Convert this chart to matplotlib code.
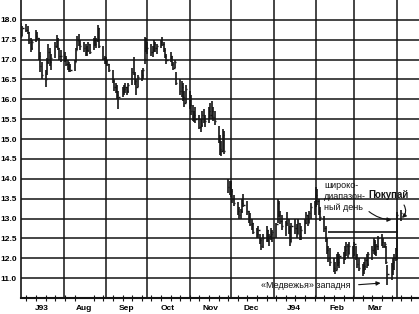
import matplotlib
matplotlib.use('Agg')
import matplotlib.pyplot as plt
import matplotlib.dates as mdates
import pandas as pd

# ---------------- data (daily bars, Jul 1993 - Apr 1994) ----------------
highs = [
    # Jul 93
    17.92, 17.85, 17.90, 17.85, 17.70, 17.55, 17.50, 17.75, 17.70, 17.55, 17.20,
    16.95, 16.75, 17.05, 17.40, 17.30, 17.15, 17.45, 17.62, 17.55, 17.30, 17.25,
    # Aug
    17.20, 17.10, 17.00, 16.95, 16.90, 17.00, 17.30, 17.60, 17.65, 17.50, 17.45,
    17.40, 17.35, 17.45, 17.40, 17.55, 17.60, 17.55, 17.87, 17.80, 17.35, 17.10,
    # Sep
    17.07, 17.00, 16.90, 16.75, 16.50, 16.40, 16.35, 16.20, 16.30, 16.35, 16.40,
    16.30, 16.40, 16.80, 17.07, 16.70, 16.50, 16.60, 16.75, 16.80, 17.57, 17.55,
    # Oct
    17.45, 17.40, 17.35, 17.50, 17.45, 17.40, 17.50, 17.57, 17.45, 17.30, 17.15,
    17.20, 17.10, 16.95, 17.00, 16.70, 16.50, 16.45, 16.40, 16.20, 16.35,
    # Nov
    16.20, 16.10, 15.85, 15.70, 15.80, 15.60, 15.50, 15.70, 15.75, 15.60, 15.80,
    15.90, 15.95, 15.80, 15.70, 15.32, 15.10, 14.95, 15.25, 15.20, 14.00, 13.95,
    # Dec
    13.95, 13.75, 13.60, 13.42, 13.30, 13.25, 13.50, 13.62, 13.45, 13.20, 13.15,
    13.00, 12.90, 12.75, 12.80, 12.60, 12.50, 12.60, 12.82, 12.70, 12.60, 12.75, 12.70,
    # Jan 94
    12.90, 13.50, 13.45, 13.20, 13.10, 12.95, 13.17, 13.00, 12.80, 12.90, 13.00,
    12.85, 13.00, 12.90, 12.80, 13.00, 13.17, 13.10, 13.20, 13.40, 13.45,
    # Feb
    13.80, 13.75, 13.50, 13.30, 13.07, 12.80, 12.50, 12.30, 12.25, 12.00,
    11.90, 12.10, 12.17, 12.10, 12.17, 12.30, 12.42, 12.35, 12.40, 12.30,
    # Mar
    12.42, 12.30, 12.10, 12.00, 11.85, 11.90, 12.00, 12.10, 12.17, 12.30, 12.50,
    12.45, 12.35, 12.55, 12.62, 12.50, 12.42, 12.30, 11.82, 11.87, 12.00, 12.10, 12.25,
    # Apr
    13.17, 13.22,
]
lows = [
    # Jul 93
    17.55, 17.60, 17.70, 17.65, 17.40, 17.20, 17.25, 17.45, 17.50, 17.00, 16.70,
    16.50, 16.30, 16.60, 16.90, 16.85, 16.75, 17.05, 17.30, 17.25, 17.00, 16.95,
    # Aug
    16.95, 16.85, 16.75, 16.70, 16.68, 16.72, 16.95, 17.25, 17.35, 17.25, 17.20,
    17.10, 17.10, 17.20, 17.15, 17.25, 17.35, 17.30, 17.45, 17.30, 17.00, 16.90,
    # Sep
    16.90, 16.85, 16.70, 16.40, 16.20, 16.15, 16.00, 15.75, 16.05, 16.10, 16.15,
    16.10, 16.15, 16.35, 16.60, 16.35, 16.12, 16.30, 16.45, 16.50, 16.90, 17.20,
    # Oct
    17.15, 17.10, 17.07, 17.20, 17.20, 17.15, 17.30, 17.35, 17.20, 17.05, 16.90,
    16.95, 16.85, 16.75, 16.80, 16.35, 16.10, 16.07, 15.95, 15.80, 15.90,
    # Nov
    15.75, 15.60, 15.45, 15.42, 15.40, 15.25, 15.17, 15.30, 15.40, 15.30, 15.40,
    15.50, 15.50, 15.45, 15.35, 14.90, 14.60, 14.57, 14.70, 14.62, 13.65, 13.60,
    # Dec
    13.55, 13.40, 13.32, 13.10, 13.00, 13.00, 13.15, 13.30, 13.10, 12.90, 12.80,
    12.70, 12.60, 12.50, 12.50, 12.35, 12.20, 12.25, 12.40, 12.40, 12.30, 12.45, 12.42,
    # Jan 94
    12.50, 12.90, 13.05, 12.85, 12.70, 12.57, 12.80, 12.60, 12.32, 12.40, 12.60,
    12.50, 12.60, 12.45, 12.45, 12.60, 12.85, 12.82, 12.90, 13.00, 13.10,
    # Feb
    13.30, 13.35, 13.10, 12.95, 12.67, 12.40, 12.10, 11.90, 11.80, 11.65,
    11.60, 11.70, 11.80, 11.75, 11.85, 11.95, 12.05, 12.00, 12.10, 12.00,
    # Mar
    12.05, 11.95, 11.75, 11.67, 11.55, 11.60, 11.70, 11.75, 11.80, 11.95, 12.10,
    12.07, 12.05, 12.20, 12.30, 12.25, 12.25, 11.85, 11.32, 11.45, 11.57, 11.70, 11.92,
    # Apr
    11.95, 12.95,
]
closes = [
    # Jul 93
    17.60, 17.80, 17.75, 17.70, 17.45, 17.30, 17.45, 17.60, 17.55, 17.10, 16.85,
    16.60, 16.50, 16.95, 17.20, 16.95, 17.05, 17.35, 17.50, 17.30, 17.10, 17.10,
    # Aug
    17.05, 16.90, 16.80, 16.85, 16.75, 16.95, 17.25, 17.50, 17.40, 17.35, 17.30,
    17.15, 17.25, 17.40, 17.20, 17.50, 17.40, 17.50, 17.80, 17.35, 17.05, 17.00,
    # Sep
    17.00, 16.90, 16.75, 16.45, 16.30, 16.20, 16.10, 16.05, 16.20, 16.25, 16.30,
    16.20, 16.35, 16.70, 16.65, 16.45, 16.30, 16.55, 16.60, 16.75, 17.50, 17.30,
    # Oct
    17.30, 17.20, 17.25, 17.40, 17.30, 17.35, 17.45, 17.40, 17.25, 17.10, 17.00,
    17.10, 16.90, 16.80, 16.95, 16.40, 16.20, 16.30, 16.05, 15.90, 16.25,
    # Nov
    15.85, 15.70, 15.50, 15.60, 15.50, 15.30, 15.35, 15.60, 15.50, 15.45, 15.70,
    15.60, 15.70, 15.55, 15.45, 15.00, 14.75, 14.70, 15.10, 14.70, 13.80, 13.90,
    # Dec
    13.70, 13.50, 13.40, 13.20, 13.10, 13.20, 13.40, 13.35, 13.20, 13.00, 12.85,
    12.90, 12.65, 12.60, 12.70, 12.45, 12.30, 12.50, 12.70, 12.50, 12.55, 12.60, 12.65,
    # Jan 94
    12.85, 13.40, 13.10, 12.95, 12.80, 12.90, 13.00, 12.70, 12.40, 12.80, 12.75,
    12.60, 12.90, 12.55, 12.70, 12.90, 13.10, 12.90, 13.15, 13.30, 13.35,
    # Feb
    13.60, 13.45, 13.20, 13.05, 12.75, 12.50, 12.20, 12.00, 11.90, 11.75,
    11.70, 12.00, 11.90, 12.05, 12.00, 12.20, 12.30, 12.10, 12.30, 12.10,
    # Mar
    12.35, 12.00, 11.85, 11.75, 11.70, 11.80, 11.95, 11.85, 12.10, 12.20, 12.40,
    12.15, 12.30, 12.50, 12.40, 12.30, 12.35, 11.90, 11.60, 11.80, 11.90, 12.00, 12.20,
    # Apr
    13.10, 13.15,
]

month_labels = ["J93", "Aug", "Sep", "Oct", "Nov", "Dec", "J94", "Feb", "Mar"]
ytick_values = [18.0, 17.5, 17.0, 16.5, 16.0, 15.5, 15.0, 14.5, 14.0, 13.5, 13.0, 12.5, 12.0, 11.5]
ytick_labels = ["18.0", "17.5", "17.0", "16.5", "16.0", "15.5", "15.0", "14.5", "14.0",
                "13.5", "13.0", "12.5", "12.0", "11.0"]
resistance_level = 12.65

# ---------------- figure ----------------
plt.rcParams['font.family'] = ['Liberation Sans', 'DejaVu Sans']
fig = plt.figure(figsize=(4.19, 3.14), dpi=100)
ax = fig.add_axes([21 / 419, 16 / 314, 398 / 419, 298 / 314])

dates = pd.bdate_range('1993-07-01', '1994-04-04')
n = min(len(dates), len(highs), len(lows), len(closes))
xd = mdates.date2num(dates[:n].to_pydatetime())

ink = '#141414'
ax.vlines(xd, lows[:n], highs[:n], color=ink, lw=1.2, zorder=3)
ax.hlines(closes[:n], xd, xd + 0.9, color=ink, lw=1.0, zorder=3)

d = lambda s: mdates.date2num(pd.Timestamp(s))
ax.set_xlim(d('1993-07-01'), d('1994-04-17'))
ax.set_ylim(11.0, 18.5)

# month boundary grid lines
for ms in pd.date_range('1993-08-01', '1994-04-01', freq='MS'):
    ax.axvline(d(ms), color=ink, lw=1.1, zorder=1)

# horizontal grid
ax.set_yticks(ytick_values)
ax.set_yticklabels(ytick_labels)
ax.grid(axis='y', color=ink, lw=1.1, zorder=1)
ax.tick_params(axis='y', length=0, pad=3, labelsize=6)
for t in ax.get_yticklabels():
    t.set_fontweight('bold')

# x: month labels at mid-month, weekly minor ticks
mids = [d(m) + 15 for m in pd.date_range('1993-07-01', '1994-03-01', freq='MS')]
ax.set_xticks(mids)
ax.set_xticklabels(month_labels)
ax.tick_params(axis='x', which='major', length=0, pad=5, labelsize=6)
for t in ax.get_xticklabels():
    t.set_fontweight('bold')
ax.xaxis.set_minor_locator(mdates.WeekdayLocator(byweekday=mdates.MO))
ax.tick_params(axis='x', which='minor', direction='inout', length=4, width=0.8, color=ink)

for side in ['top', 'right']:
    ax.spines[side].set_visible(False)
ax.spines['left'].set_linewidth(1.2)
ax.spines['bottom'].set_linewidth(1.5)
ax.spines['left'].set_color(ink)
ax.spines['bottom'].set_color(ink)

# resistance line
ax.hlines(resistance_level, d('1994-02-10'), d('1994-04-02'), color=ink, lw=1.2, zorder=3)

# annotations
ax.text(d('1994-02-07'), 13.55, "широко-\nдиапазон-\nный день", fontsize=6.5,
        ha='left', va='center', linespacing=1.3, color=ink)
ax.annotate('', xy=(d('1994-03-30'), 12.97), xytext=(d('1994-03-10'), 13.22),
            arrowprops=dict(arrowstyle='-|>', color=ink, lw=0.8, mutation_scale=6,
                            connectionstyle='arc3,rad=0.2'))
ax.text(d('1994-03-11'), 13.60, "Покупай", fontsize=7, fontweight='bold',
        ha='left', va='center', color=ink)
ax.annotate('', xy=(d('1994-04-03'), 12.97), xytext=(d('1994-04-05'), 13.40),
            arrowprops=dict(arrowstyle='-|>', color=ink, lw=0.8, mutation_scale=6,
                            connectionstyle='arc3,rad=-0.5'))
ax.text(d('1993-12-23'), 11.32, "«Медвежья» западня", fontsize=6.5,
        ha='left', va='center', color=ink)
ax.annotate('', xy=(d('1994-03-22'), 11.38), xytext=(d('1994-03-02'), 11.33),
            arrowprops=dict(arrowstyle='-|>', color=ink, lw=0.8, mutation_scale=6))

fig.savefig('out.png', dpi=100)
